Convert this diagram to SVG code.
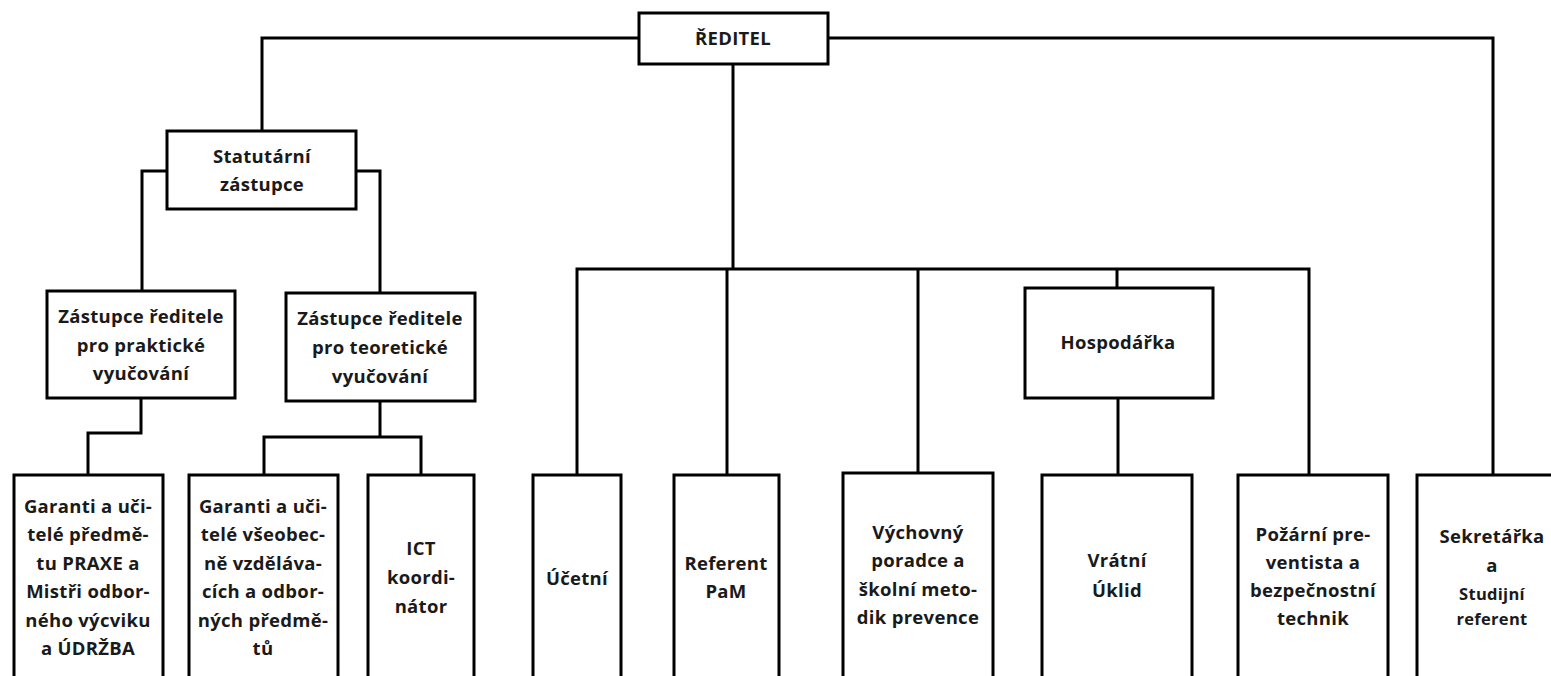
<svg xmlns="http://www.w3.org/2000/svg" width="1551" height="676" viewBox="0 0 1551 676">
<style>
.box{fill:#fff;stroke:#000;stroke-width:3}
.con{fill:none;stroke:#000;stroke-width:3;stroke-linejoin:miter}
text{font-family:"Open Sans","Noto Sans",sans-serif;font-weight:bold;font-size:18.5px;letter-spacing:0.3px;fill:#1a1a1a;text-anchor:middle}
.sm{font-size:16.5px}
</style>
<rect width="1551" height="676" fill="#fff"/>
<g id="connectors">
<path class="con" d="M262,131 V38 H639"/>
<path class="con" d="M828,38 H1493 V475"/>
<path class="con" d="M167,171 H142 V291"/>
<path class="con" d="M356,171 H380 V293"/>
<path class="con" d="M141,398 V433 H88 V475"/>
<path class="con" d="M380,401 V437"/>
<path class="con" d="M264,475 V437 H421 V475"/>
<path class="con" d="M733,64 V268"/>
<path class="con" d="M577,475 V269 H1309 V475"/>
<path class="con" d="M727,268 V475"/>
<path class="con" d="M918,268 V473"/>
<path class="con" d="M1117,268 V288"/>
<path class="con" d="M1118,398 V475"/>
</g>
<g id="reditel"><rect class="box" x="639" y="13" width="189" height="51"/><text x="733" y="45">ŘEDITEL</text></g>
<g id="statutarni"><rect class="box" x="167" y="131" width="189" height="78"/><text x="262" y="163">Statutární</text><text x="262" y="191">zástupce</text></g>
<g id="zastupce-prakticke"><rect class="box" x="47" y="291" width="188" height="107"/><text x="141" y="323">Zástupce ředitele</text><text x="141" y="352">pro praktické</text><text x="141" y="380">vyučování</text></g>
<g id="zastupce-teoreticke"><rect class="box" x="286" y="293" width="189" height="108"/><text x="380" y="325">Zástupce ředitele</text><text x="380" y="354">pro teoretické</text><text x="380" y="383">vyučování</text></g>
<g id="hospodarka"><rect class="box" x="1025" y="288" width="188" height="110"/><text x="1118" y="349">Hospodářka</text></g>
<g id="garanti-praxe"><rect class="box" x="14" y="475" width="149" height="230"/><text x="88" y="513">Garanti a uči-</text><text x="88" y="541">telé předmě-</text><text x="88" y="570">tu PRAXE a</text><text x="88" y="598">Mistři odbor-</text><text x="88" y="627">ného výcviku</text><text x="88" y="655">a ÚDRŽBA</text></g>
<g id="garanti-vseobecne"><rect class="box" x="189" y="475" width="149" height="230"/><text x="263" y="513">Garanti a uči-</text><text x="263" y="541">telé všeobec-</text><text x="263" y="570">ně vzděláva-</text><text x="263" y="598">cích a odbor-</text><text x="263" y="627">ných předmě-</text><text x="263" y="655">tů</text></g>
<g id="ict"><rect class="box" x="368" y="475" width="106" height="230"/><text x="421" y="555">ICT</text><text x="421" y="584">koordi-</text><text x="421" y="613">nátor</text></g>
<g id="ucetni"><rect class="box" x="533" y="475" width="88" height="230"/><text x="577" y="585">Účetní</text></g>
<g id="referent-pam"><rect class="box" x="674" y="475" width="105" height="230"/><text x="726" y="570">Referent</text><text x="726" y="598">PaM</text></g>
<g id="vychovny"><rect class="box" x="843" y="473" width="150" height="232"/><text x="918" y="539">Výchovný</text><text x="918" y="567">poradce a</text><text x="918" y="596">školní meto-</text><text x="918" y="624">dik prevence</text></g>
<g id="vratni"><rect class="box" x="1042" y="475" width="150" height="230"/><text x="1117" y="567">Vrátní</text><text x="1117" y="597">Úklid</text></g>
<g id="pozarni"><rect class="box" x="1238" y="475" width="150" height="230"/><text x="1313" y="541">Požární pre-</text><text x="1313" y="569">ventista a</text><text x="1313" y="597">bezpečnostní</text><text x="1313" y="625">technik</text></g>
<g id="sekretarka"><rect class="box" x="1417" y="475" width="150" height="230"/><text x="1492" y="543">Sekretářka</text><text x="1492" y="572">a</text><text class="sm" x="1492" y="600">Studijní</text><text class="sm" x="1492" y="625">referent</text></g>
</svg>
